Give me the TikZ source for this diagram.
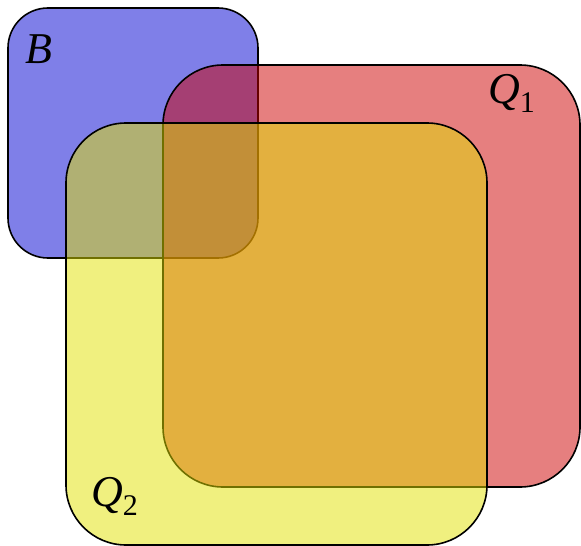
\documentclass[tikz,border=0pt]{standalone}
\usepackage{fontspec}
\setmainfont{Liberation Serif}
\definecolor{bcol}{RGB}{0,0,209}
\definecolor{rcol}{RGB}{205,0,0}
\definecolor{ycol}{RGB}{225,225,0}
\newcommand{\labfont}{\fontsize{44}{44}\selectfont}
\newcommand{\subfont}{\fontsize{30}{30}\selectfont}
\begin{document}
\begin{tikzpicture}[x=1pt,y=-1pt,
  setbox/.style={draw=black, line width=1.6pt, rectangle, inner sep=0pt, outer sep=0pt, fill opacity=0.5},
  setlabel/.style={inner sep=0pt, font=\labfont}]
\useasboundingbox (0,0) rectangle (581,546);
\node[setbox, fill=bcol, rounded corners=40pt, minimum width=250pt, minimum height=250pt] (B) at (133,133) {};
\node[setbox, fill=rcol, rounded corners=60pt, minimum width=417pt, minimum height=422pt] (Q1) at (371.5,276) {};
\node[setbox, fill=ycol, rounded corners=60pt, minimum width=421pt, minimum height=422pt] (Q2) at (276.5,334) {};
\node[setlabel, anchor=base west] (lB) at (25,63) {\textit{B}};
\node[setlabel, anchor=base west] (lQ1) at (488,103) {\textit{Q}\raisebox{-9pt}{\subfont 1}};
\node[setlabel, anchor=base west] (lQ2) at (91,506) {\textit{Q}\raisebox{-9pt}{\subfont 2}};
\end{tikzpicture}
\end{document}
